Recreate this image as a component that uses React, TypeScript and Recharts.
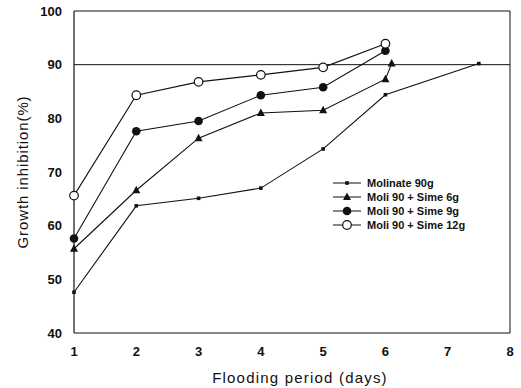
import {
  LineChart,
  Line,
  XAxis,
  YAxis,
  ReferenceLine,
} from 'recharts';

// ---------------------------------------------------------------------------
// Data
// ---------------------------------------------------------------------------

const MOLINATE_DAYS = [1, 2, 3, 4, 5, 6, 7.5];
const MOLINATE_VALUES = [47.6, 63.7, 65.1, 67.0, 74.3, 84.4, 90.2];

const SIME6_DAYS = [1, 2, 3, 4, 5, 6, 6.1];
const SIME6_VALUES = [55.7, 66.6, 76.3, 81.0, 81.5, 87.3, 90.2];

const SIME9_DAYS = [1, 2, 3, 4, 5, 6];
const SIME9_VALUES = [57.6, 77.6, 79.5, 84.3, 85.8, 92.6];

const SIME12_DAYS = [1, 2, 3, 4, 5, 6];
const SIME12_VALUES = [65.6, 84.3, 86.8, 88.1, 89.5, 93.9];

const X_TICKS = [1, 2, 3, 4, 5, 6, 7, 8];
const Y_TICKS = [40, 50, 60, 70, 80, 90, 100];
const THRESHOLD = 90;

const SERIES_NAMES = [
  'Molinate 90g',
  'Moli 90 + Sime 6g',
  'Moli 90 + Sime 9g',
  'Moli 90 + Sime 12g',
];

// ---------------------------------------------------------------------------
// Helpers
// ---------------------------------------------------------------------------

function toPoints(days: number[], values: number[]) {
  return days.map((day, i) => ({ day, value: values[i] }));
}

const INK = '#111';
const FONT = '"Liberation Sans", Arial, sans-serif';

type MarkerKind = 'square' | 'triangle' | 'dot' | 'open';
const MARKERS: MarkerKind[] = ['square', 'triangle', 'dot', 'open'];

function Marker({ kind, cx, cy }: { kind: MarkerKind; cx: number; cy: number }) {
  if (kind === 'square') {
    return <rect x={cx - 1.8} y={cy - 1.8} width={3.6} height={3.6} fill={INK} />;
  }
  if (kind === 'triangle') {
    return (
      <polygon
        points={`${cx},${cy - 4.5} ${cx + 4},${cy + 3} ${cx - 4},${cy + 3}`}
        fill={INK}
      />
    );
  }
  if (kind === 'dot') {
    return <circle cx={cx} cy={cy} r={4.3} fill={INK} />;
  }
  return <circle cx={cx} cy={cy} r={4.3} fill="#fff" stroke={INK} strokeWidth={1.2} />;
}

function makeDot(kind: MarkerKind) {
  return (props: any) => {
    const { cx, cy, index } = props;
    if (cx == null || cy == null) return <g key={index} />;
    return (
      <g key={index}>
        <Marker kind={kind} cx={cx} cy={cy} />
      </g>
    );
  };
}

// legend drawn as an overlay, so it doesn't eat plot space
function BoxLegend() {
  return (
    <div
      style={{
        position: 'absolute',
        left: 333,
        top: 176,
        fontFamily: FONT,
        fontSize: 11,
        fontWeight: 'bold',
        color: INK,
        lineHeight: '14px',
      }}
    >
      {SERIES_NAMES.map((name, i) => (
        <div key={name} style={{ display: 'flex', alignItems: 'center', height: 14 }}>
          <svg width={28} height={12} style={{ marginRight: 6 }}>
            <line x1={0} y1={6} x2={28} y2={6} stroke={INK} strokeWidth={1} />
            <Marker kind={MARKERS[i]} cx={14} cy={6} />
          </svg>
          <span>{name}</span>
        </div>
      ))}
    </div>
  );
}

// ---------------------------------------------------------------------------
// Component
// ---------------------------------------------------------------------------

const SERIES = [
  toPoints(MOLINATE_DAYS, MOLINATE_VALUES),
  toPoints(SIME6_DAYS, SIME6_VALUES),
  toPoints(SIME9_DAYS, SIME9_VALUES),
  toPoints(SIME12_DAYS, SIME12_VALUES),
];

export default function App() {
  const tick = { fill: INK, fontSize: 13, fontWeight: 'bold', fontFamily: FONT };

  return (
    <div style={{ position: 'absolute', left: 0, top: 0, width: 521, height: 388, background: '#fff' }}>
      <LineChart
        width={521}
        height={388}
        margin={{ top: 11, right: 11, bottom: 0, left: 0 }}
      >
        <XAxis
          dataKey="day"
          type="number"
          domain={[1, 8]}
          ticks={X_TICKS}
          allowDuplicatedCategory={false}
          tick={tick}
          tickLine={false}
          tickMargin={8}
          axisLine={{ stroke: INK, strokeWidth: 1.2 }}
          height={55}
          label={{
            value: 'Flooding period (days)',
            position: 'insideBottom',
            offset: 5,
            dx: 8,
            fill: INK,
            fontSize: 15,
            fontFamily: FONT,
            style: { letterSpacing: '1.2px' },
          }}
        />
        <YAxis
          type="number"
          domain={[40, 100]}
          ticks={Y_TICKS}
          tick={tick}
          tickLine={false}
          tickMargin={6}
          axisLine={{ stroke: INK, strokeWidth: 1.2 }}
          width={74}
          label={{
            value: 'Growth inhibition(%)',
            angle: -90,
            position: 'insideLeft',
            offset: 23,
            style: { textAnchor: 'middle', letterSpacing: '0.9px' },
            fill: INK,
            fontSize: 15,
            fontFamily: FONT,
          }}
        />

        {/* frame and 90% line */}
        <ReferenceLine y={100} stroke={INK} strokeWidth={1} />
        <ReferenceLine x={8} stroke={INK} strokeWidth={1} />
        <ReferenceLine y={THRESHOLD} stroke={INK} strokeWidth={1} />

        {SERIES.map((points, i) => (
          <Line
            key={SERIES_NAMES[i]}
            name={SERIES_NAMES[i]}
            data={points}
            dataKey="value"
            type="linear"
            stroke={INK}
            strokeWidth={1.1}
            dot={makeDot(MARKERS[i])}
            activeDot={false}
            isAnimationActive={false}
          />
        ))}
      </LineChart>
      <BoxLegend />
    </div>
  );
}
